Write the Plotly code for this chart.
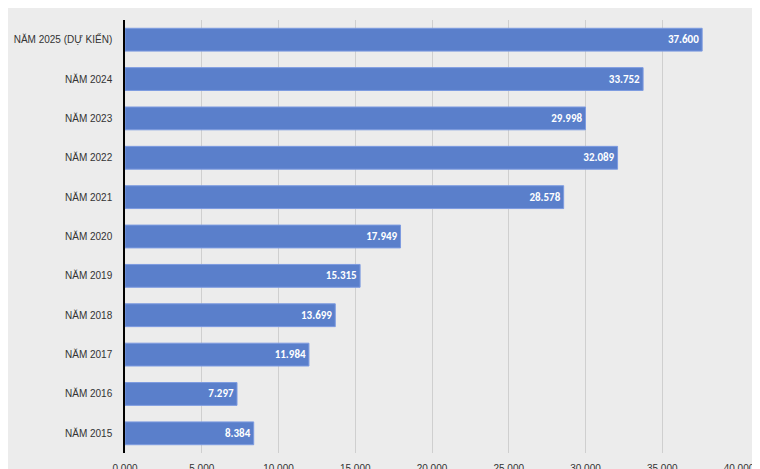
import plotly.graph_objects as go

nam = ["NĂM 2015", "NĂM 2016", "NĂM 2017", "NĂM 2018", "NĂM 2019", "NĂM 2020",
       "NĂM 2021", "NĂM 2022", "NĂM 2023", "NĂM 2024", "NĂM 2025 (DỰ KIẾN)"]
gia_tri = [8384, 7297, 11984, 13699, 15315, 17949, 28578, 32089, 29998, 33752, 37600]
nhan = ["8.384", "7.297", "11.984", "13.699", "15.315", "17.949",
        "28.578", "32.089", "29.998", "33.752", "37.600"]
tick_vals = [0, 5000, 10000, 15000, 20000, 25000, 30000, 35000, 40000]
tick_text = ["0.000", "5.000", "10.000", "15.000", "20.000",
             "25.000", "30.000", "35.000", "40.000"]

fig = go.Figure(go.Bar(
    y=nam, x=gia_tri, orientation="h", text=nhan,
    textposition="inside", insidetextanchor="end",
    textfont=dict(color="white", size=11, family="Calibri, Liberation Sans, Arial"),
    marker=dict(color="#5a7fcb", line=dict(color="#7d9be0", width=1)),
    width=0.58))
fig.update_traces(texttemplate="<b>%{text}</b>", cliponaxis=False)
fig.update_layout(
    width=760, height=469,
    margin=dict(l=117, r=29, t=12, b=24),
    paper_bgcolor="#ececec", plot_bgcolor="#ececec",
    font=dict(family="Liberation Sans, Arial", size=10, color="#333"),
    showlegend=False, bargap=0.42,
    xaxis=dict(range=[0, 40000], tickvals=tick_vals, ticktext=tick_text,
               showgrid=True, gridcolor="#cfcfcf", zeroline=False,
               ticks="", ticklabelstandoff=8, automargin=False),
    yaxis=dict(showline=True, linecolor="black", linewidth=1.5,
               ticks="", ticklabelstandoff=9, automargin=False),
)
fig.write_html("out.html")
